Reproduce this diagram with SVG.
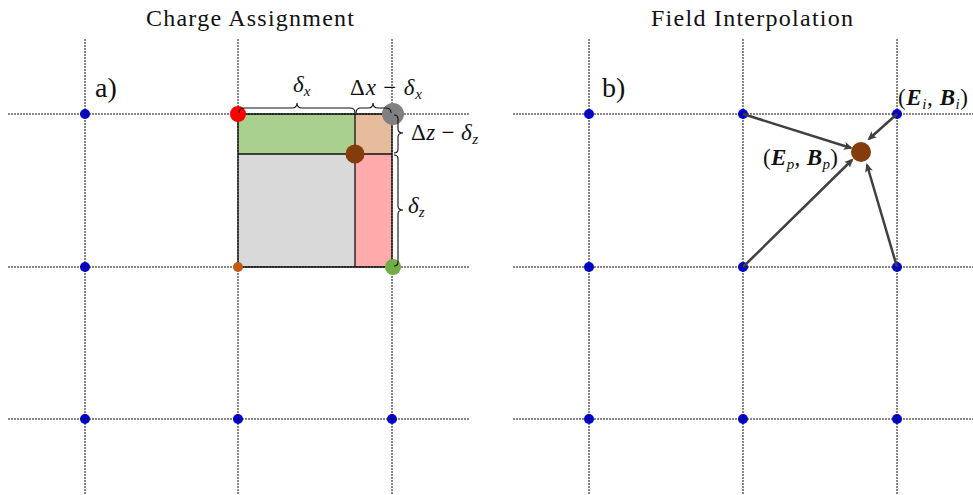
<svg xmlns="http://www.w3.org/2000/svg" width="973" height="495" viewBox="0 0 973 495">
<style>
.grid{stroke:#111;stroke-width:1;stroke-dasharray:2 1;fill:none}
.node{fill:#0000ee}
.t{font-family:"Liberation Serif","DejaVu Serif",serif;fill:#111}
.title{font-size:24px}
.m{font-family:"Liberation Serif","DejaVu Serif",serif;font-size:23px;fill:#111}
.i{font-style:italic}
.bi{font-style:italic;font-weight:bold}
.s{font-size:15px}
.brace{fill:none;stroke:#111;stroke-width:1.1}
.arrow{stroke:#404040;stroke-width:2.5;fill:none;marker-end:url(#ah)}
.edge{stroke:#111;stroke-width:1.3;fill:none}
</style>
<defs>
<marker id="ah" markerWidth="10" markerHeight="10" refX="7" refY="5" orient="auto" markerUnits="userSpaceOnUse">
<path d="M0,1 L9,5 L0,9 L2,5 Z" fill="#404040"/>
</marker>
</defs>
<rect width="973" height="495" fill="#fff"/>
<text class="t title" x="250" y="26" text-anchor="middle" textLength="208">Charge Assignment</text>
<text class="t title" x="752" y="26" text-anchor="middle" textLength="202">Field Interpolation</text>

<g id="cells-a">
<rect x="238" y="114" width="117" height="40" fill="#a9d08e"/>
<rect x="355" y="114" width="37" height="40" fill="#e6bc9d"/>
<rect x="238" y="154" width="117" height="113" fill="#d9d9d9"/>
<rect x="355" y="154" width="37" height="113" fill="#ffabab"/>
<path class="edge" d="M238,114 H392 V267 H238 Z M238,154 H392 M355,114 V267"/>
</g>

<g id="nodes-a">
<circle class="node" cx="85" cy="114" r="5"/>
<circle class="node" cx="85" cy="267" r="5"/>
<circle class="node" cx="85" cy="419" r="5"/>
<circle class="node" cx="238" cy="419" r="5"/>
<circle class="node" cx="392" cy="419" r="5"/>
</g>

<g id="nodes-b">
<circle class="node" cx="589" cy="114" r="5"/>
<circle class="node" cx="743" cy="114" r="5"/>
<circle class="node" cx="897" cy="114" r="5"/>
<circle class="node" cx="589" cy="267" r="5"/>
<circle class="node" cx="743" cy="267" r="5"/>
<circle class="node" cx="897" cy="267" r="5"/>
<circle class="node" cx="589" cy="419" r="5"/>
<circle class="node" cx="743" cy="419" r="5"/>
<circle class="node" cx="897" cy="419" r="5"/>
</g>

<g id="grid">
<path class="grid" d="M8,114 H469 M8,267 H469 M8,419 H469 M85,39 V495 M238,39 V495 M392,39 V495"/>
<path class="grid" d="M513,114 H973 M513,267 H973 M513,419 H973 M589,39 V495 M743,39 V495 M897,39 V495"/>
</g>

<g id="weights-a">
<circle id="red" cx="238" cy="114" r="8" fill="#ff0000"/>
<circle id="gray" cx="393" cy="114" r="11" fill="#808080"/>
<circle id="orange" cx="238" cy="267" r="5" fill="#c55a11"/>
<circle id="green" cx="393" cy="267" r="8" fill="#70ad47"/>
<circle id="particle-a" cx="355" cy="154" r="9.5" fill="#843c0c"/>
</g>

<g id="braces">
<path class="brace" d="M239,113 Q239,108 244,108 H292 Q297,108 297,103 Q297,108 302,108 H350 Q355,108 355,113"/>
<path class="brace" d="M356,113 Q356,108 361,108 H368 Q373,108 373,103 Q373,108 378,108 H386 Q391,108 391,113"/>
<path class="brace" d="M394,115 Q398,115 398,119 V129 Q398,133 403,133 Q398,133 398,137 V149 Q398,153 394,153"/>
<path class="brace" d="M394,155 Q398,155 398,159 V206 Q398,210 403,210 Q398,210 398,214 V262 Q398,266 394,266"/>
</g>

<g id="labels-a">
<text class="t" x="95" y="97" font-size="28">a)</text>
<text class="m" x="293" y="92"><tspan class="i">δ</tspan><tspan class="s i" dy="4">x</tspan></text>
<text class="m" x="350" y="95" textLength="72">Δ<tspan class="i">x</tspan> − <tspan class="i">δ</tspan><tspan class="s i" dy="4">x</tspan></text>
<text class="m" x="411" y="140" textLength="67">Δ<tspan class="i">z</tspan> − <tspan class="i">δ</tspan><tspan class="s i" dy="4">z</tspan></text>
<text class="m" x="408" y="213"><tspan class="i">δ</tspan><tspan class="s i" dy="4">z</tspan></text>
</g>

<g id="connectors">
<line class="arrow" x1="743" y1="114" x2="851" y2="148"/>
<line class="arrow" x1="743" y1="267" x2="852" y2="160"/>
<line class="arrow" x1="897" y1="267" x2="867" y2="165"/>
<line class="arrow" x1="897" y1="114" x2="869" y2="139"/>
</g>

<g id="particle-node-b">
<circle id="particle-b" cx="861" cy="152" r="10" fill="#843c0c"/>
</g>

<g id="labels-b">
<text class="t" x="602" y="97" font-size="28">b)</text>
<text class="m" x="898" y="105" textLength="70">(<tspan class="bi">E</tspan><tspan class="s i" dy="4">i</tspan><tspan dy="-4">, </tspan><tspan class="bi">B</tspan><tspan class="s i" dy="4">i</tspan><tspan dy="-4">)</tspan></text>
<text class="m" x="763" y="165" textLength="75">(<tspan class="bi">E</tspan><tspan class="s i" dy="4">p</tspan><tspan dy="-4">, </tspan><tspan class="bi">B</tspan><tspan class="s i" dy="4">p</tspan><tspan dy="-4">)</tspan></text>
</g>
</svg>
